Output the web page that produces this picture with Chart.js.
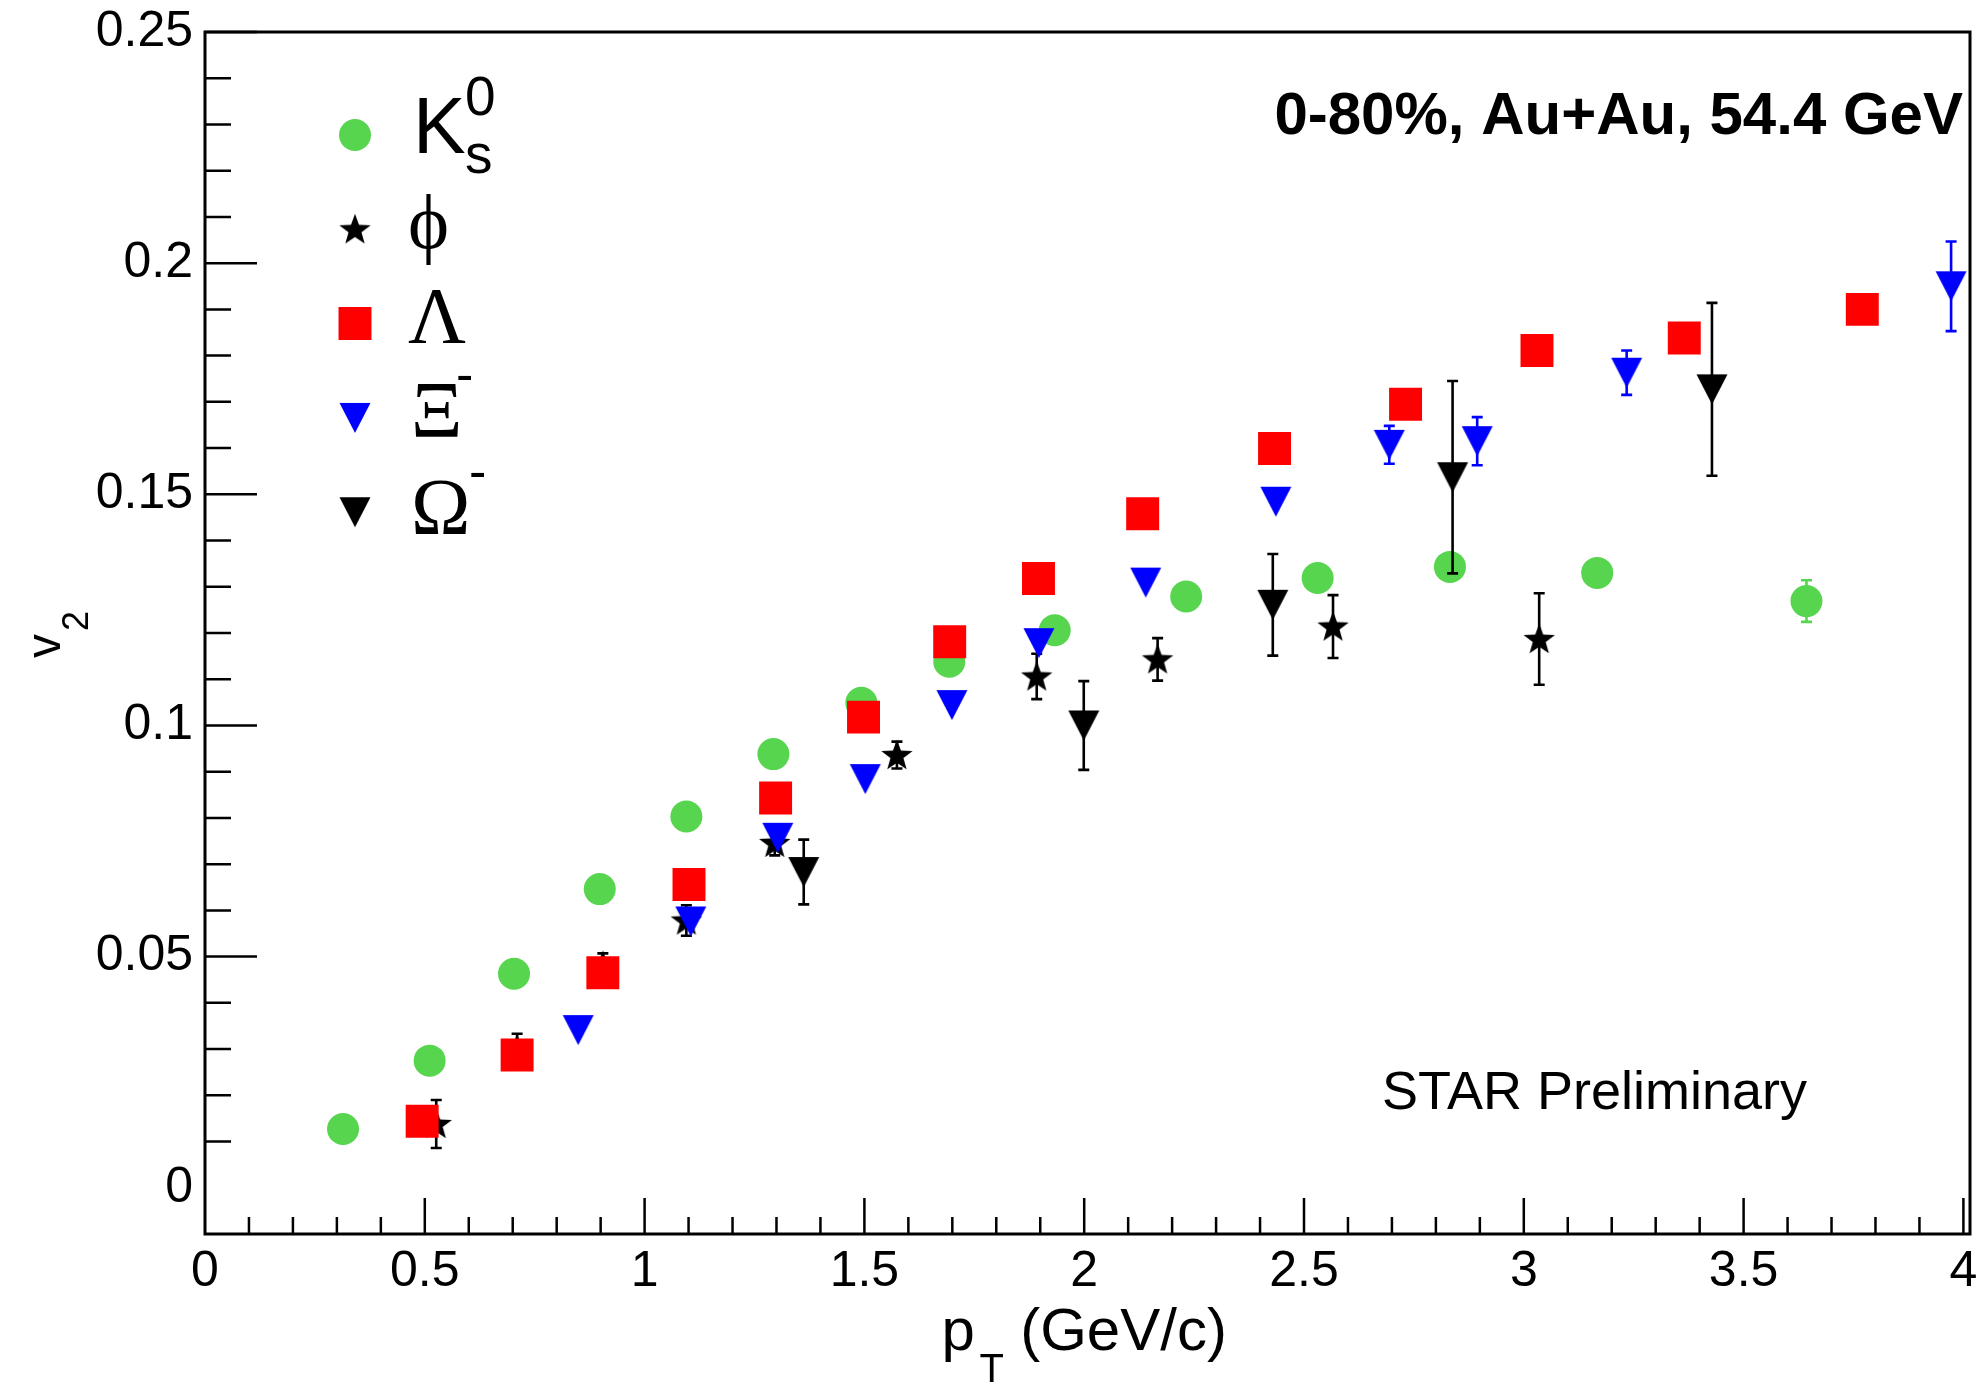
<!DOCTYPE html>
<html>
<head>
<meta charset="utf-8">
<title>v2 vs pT — 0-80% Au+Au 54.4 GeV</title>
<script src="https://cdn.jsdelivr.net/npm/chart.js@4.4.1/dist/chart.umd.min.js"></script>
<style>
  html, body { margin: 0; padding: 0; background: #fff; }
  canvas { display: block; }
</style>
</head>
<body>
<canvas id="v2" width="1977" height="1386"></canvas>
<script>
/* Elliptic flow v2 vs pT for identified strange hadrons, drawn in ROOT style */

// ---- data ----
const k0sPt  = [0.314, 0.511, 0.703, 0.898, 1.095, 1.293, 1.493, 1.693, 1.933, 2.232, 2.531, 2.832, 3.167, 3.643];
const k0sV2  = [0.0127, 0.0275, 0.0463, 0.0646, 0.0803, 0.0938, 0.1049, 0.1138, 0.1206, 0.1279, 0.1319, 0.1343, 0.1330, 0.1269];
const k0sErr = [0, 0, 0, 0, 0, 0, 0, 0, 0, 0, 0, 0, 0, 0.0045];

const phiPt  = [0.526, 0.710, 0.905, 1.095, 1.296, 1.574, 1.892, 2.167, 2.566, 3.035];
const phiV2  = [0.0138, 0.0300, 0.0480, 0.0578, 0.0746, 0.0936, 0.1106, 0.1143, 0.1214, 0.1187];
const phiErr = [0.0052, 0.0033, 0.0027, 0.0033, 0.0027, 0.0029, 0.0049, 0.0046, 0.0068, 0.0099];

const lamPt  = [0.494, 0.710, 0.905, 1.101, 1.298, 1.498, 1.694, 1.896, 2.133, 2.433, 2.731, 3.030, 3.365, 3.770];
const lamV2  = [0.0144, 0.0287, 0.0465, 0.0656, 0.0843, 0.1018, 0.1181, 0.1318, 0.1458, 0.1599, 0.1695, 0.1811, 0.1838, 0.1900];

const xiPt   = [0.849, 1.105, 1.303, 1.502, 1.699, 1.897, 2.140, 2.436, 2.694, 2.894, 3.234, 3.972];
const xiV2   = [0.0341, 0.0576, 0.0757, 0.0884, 0.1044, 0.1178, 0.1309, 0.1484, 0.1607, 0.1615, 0.1763, 0.1950];
const xiErr  = [0, 0, 0, 0, 0, 0, 0, 0, 0.0041, 0.0052, 0.0048, 0.0097];

const omPt   = [1.362, 1.999, 2.429, 2.838, 3.428];
const omV2   = [0.0683, 0.1000, 0.1261, 0.1537, 0.1727];
const omErr  = [0.0070, 0.0096, 0.0110, 0.0208, 0.0187];

const xTicks = [0, 0.5, 1, 1.5, 2, 2.5, 3, 3.5, 4];
const xTickLabels = ['0', '0.5', '1', '1.5', '2', '2.5', '3', '3.5', '4'];
const yTicks = [0, 0.05, 0.1, 0.15, 0.2, 0.25];
const yTickLabels = ['0', '0.05', '0.1', '0.15', '0.2', '0.25'];

// ---- style ----
const SANS = "'Liberation Sans', Arial, Helvetica, sans-serif";
const SERIF = "'Liberation Serif', 'Times New Roman', serif";
const GREEN = '#57d54f', RED = '#ff0000', BLUE = '#0000ff', BLACK = '#000000';

// filled markers Chart.js has no built-in for (ROOT star / down triangle)
function marker(kind, color) {
  const c = document.createElement('canvas');
  c.width = c.height = 36;
  const g = c.getContext('2d');
  g.fillStyle = color;
  g.beginPath();
  if (kind === 'tri') {
    g.moveTo(2.5, 3); g.lineTo(33.5, 3); g.lineTo(18, 33);
  } else {
    for (let k = 0; k < 10; k++) {
      const r = k % 2 ? 6.8 : 16.5, a = -Math.PI / 2 + k * Math.PI / 5;
      g.lineTo(18 + r * Math.cos(a), 19 + r * Math.sin(a));
    }
  }
  g.closePath();
  g.fill();
  return c;
}

function series(xs, ys, errs, order, style) {
  return Object.assign({
    data: xs.map((x, i) => ({ x, y: ys[i] })),
    errors: errs, order, showLine: false, borderWidth: 0, pointBorderWidth: 0
  }, style);
}

const datasets = [
  series(k0sPt, k0sV2, k0sErr, 5, { label: 'K0s', pointStyle: 'circle', pointRadius: 16, backgroundColor: GREEN, errColor: GREEN }),
  series(phiPt, phiV2, phiErr, 4, { label: 'phi', pointStyle: marker('star', BLACK), pointRadius: 15, backgroundColor: BLACK, errColor: BLACK }),
  series(lamPt, lamV2, null, 3, { label: 'Lambda', pointStyle: 'rect', pointRadius: 23.3, backgroundColor: RED, errColor: RED }),
  series(xiPt, xiV2, xiErr, 2, { label: 'Xi', pointStyle: marker('tri', BLUE), pointRadius: 15, backgroundColor: BLUE, errColor: BLUE }),
  series(omPt, omV2, omErr, 1, { label: 'Omega', pointStyle: marker('tri', BLACK), pointRadius: 15, backgroundColor: BLACK, errColor: BLACK })
];

// vertical error bars, drawn right after each dataset so later series cover them
const errorBars = {
  id: 'errorBars',
  afterDatasetDraw(chart, args) {
    const ds = chart.data.datasets[args.index];
    if (!ds.errors) return;
    const { ctx } = chart, y = chart.scales.y;
    ctx.save();
    ctx.strokeStyle = ds.errColor;
    ctx.lineWidth = 2.6;
    ds.data.forEach((p, i) => {
      const e = ds.errors[i];
      if (!e) return;
      const px = args.meta.data[i].x;
      const t = y.getPixelForValue(p.y + e), b = y.getPixelForValue(p.y - e);
      ctx.beginPath();
      ctx.moveTo(px, t); ctx.lineTo(px, b);
      ctx.moveTo(px - 5.5, t); ctx.lineTo(px + 5.5, t);
      ctx.moveTo(px - 5.5, b); ctx.lineTo(px + 5.5, b);
      ctx.stroke();
    });
    ctx.restore();
  }
};

function text(ctx, s, font, x, y, align) {
  ctx.font = font;
  ctx.textAlign = align || 'left';
  ctx.fillText(s, x, y);
}

// frame, inward ticks, axis titles, legend and labels
const decor = {
  id: 'decor',
  afterDraw(chart) {
    const { ctx, chartArea: a, scales: { x, y } } = chart;
    ctx.save();
    ctx.strokeStyle = '#000';
    ctx.fillStyle = '#000';
    ctx.textBaseline = 'alphabetic';

    ctx.lineWidth = 2.5;
    ctx.beginPath();
    for (let k = 1; k <= 25; k++) {
      const py = y.getPixelForValue(k / 100);
      ctx.moveTo(a.left, py); ctx.lineTo(a.left + (k % 5 ? 26 : 52), py);
    }
    for (let k = 1; k <= 40; k++) {
      const px = x.getPixelForValue(k / 10);
      ctx.moveTo(px, a.bottom); ctx.lineTo(px, a.bottom - (k % 5 ? 17 : 36));
    }
    ctx.stroke();

    ctx.lineWidth = 3;
    ctx.strokeRect(a.left, a.top, a.right - a.left, a.bottom - a.top);

    // x title: p_T (GeV/c)
    const cx = (a.left + a.right) / 2;
    text(ctx, 'p', `60px ${SANS}`, cx - 146, 1350);
    text(ctx, 'T', `40px ${SANS}`, cx - 108, 1382);
    text(ctx, ' (GeV/c)', `60px ${SANS}`, cx - 84, 1350);

    // y title: v_2
    ctx.save();
    ctx.translate(60, 658);
    ctx.rotate(-Math.PI / 2);
    text(ctx, 'v', `48px ${SANS}`, 0, 0);
    text(ctx, '2', `36px ${SANS}`, 27, 28);
    ctx.restore();

    // legend
    const lx = a.left + 150, ly0 = a.top + 103, dy = 94.3;
    chart.data.datasets.forEach((ds, i) => {
      ctx.fillStyle = ds.backgroundColor;
      Chart.helpers.drawPoint(ctx, { pointStyle: ds.pointStyle, radius: ds.pointRadius, rotation: 0, borderWidth: 0 }, lx, ly0 + i * dy);
    });
    ctx.fillStyle = '#000';
    const tx = lx + 58;
    let ry = ly0;
    text(ctx, 'K', `79px ${SANS}`, tx, ry + 18);
    text(ctx, '0', `55px ${SANS}`, tx + 52, ry - 20);
    text(ctx, 's', `55px ${SANS}`, tx + 52, ry + 38);
    ry += dy;
    text(ctx, 'ϕ', `78px ${SERIF}`, tx - 5, ry + 19);
    ry += dy;
    text(ctx, 'Λ', `80px ${SERIF}`, tx - 5, ry + 19);
    ry += dy;
    text(ctx, 'Ξ', `80px ${SERIF}`, tx - 2, ry + 19);
    text(ctx, '-', `52px ${SANS}`, tx + 43, ry - 26);
    ry += dy;
    text(ctx, 'Ω', `80px ${SERIF}`, tx - 2, ry + 22);
    text(ctx, '-', `52px ${SANS}`, tx + 56, ry - 23);

    text(ctx, '0-80%, Au+Au, 54.4 GeV', `bold 60px ${SANS}`, a.right - 7, 134, 'right');
    text(ctx, 'STAR Preliminary', `54px ${SANS}`, 1382, 1109);
    ctx.restore();
  }
};

new Chart(document.getElementById('v2').getContext('2d'), {
  type: 'scatter',
  data: { datasets },
  options: {
    responsive: false,
    animation: false,
    devicePixelRatio: 1,
    layout: { autoPadding: false, padding: { left: 0, right: 7, top: 32, bottom: 0 } },
    plugins: { legend: { display: false }, tooltip: { enabled: false } },
    scales: {
      x: {
        type: 'linear', min: 0, max: 4.015,
        afterFit: (s) => { s.height = 152; s.paddingLeft = 0; s.paddingRight = 0; },
        afterBuildTicks: (s) => { s.ticks = xTicks.map((v) => ({ value: v })); },
        grid: { display: false, drawTicks: false },
        border: { display: false },
        ticks: { callback: (v, i) => xTickLabels[i], color: '#000', font: { family: SANS, size: 50 }, padding: 8, maxRotation: 0, autoSkip: false }
      },
      y: {
        type: 'linear', min: -0.01, max: 0.25,
        afterFit: (s) => { s.width = 205; s.paddingTop = 0; s.paddingBottom = 0; },
        afterBuildTicks: (s) => { s.ticks = yTicks.map((v) => ({ value: v })); },
        grid: { display: false, drawTicks: false },
        border: { display: false },
        ticks: { callback: (v, i) => yTickLabels[i], color: '#000', font: { family: SANS, size: 50 }, padding: 12, autoSkip: false }
      }
    }
  },
  plugins: [errorBars, decor]
});
</script>
</body>
</html>
